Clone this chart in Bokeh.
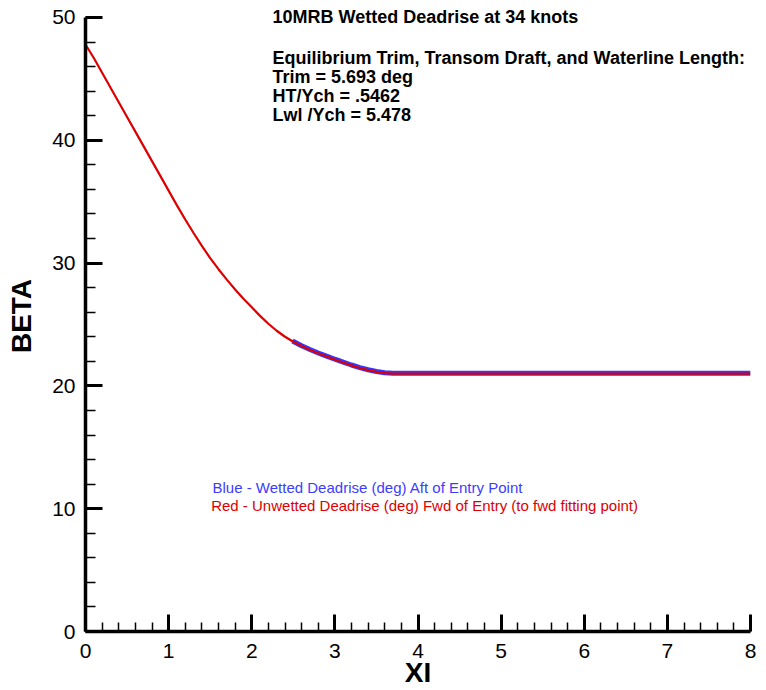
from bokeh.plotting import figure
from bokeh.models import Range1d, SingleIntervalTicker, Label
from bokeh.embed import file_html
from bokeh.resources import INLINE

# Red: unwetted deadrise (fwd of entry)
red_xi = [0.0, 0.1, 0.2, 0.3, 0.4, 0.5, 0.6, 0.7, 0.8, 0.9,
          1.0, 1.1, 1.2, 1.3, 1.4, 1.5, 1.6, 1.7, 1.8, 1.9,
          2.0, 2.1, 2.2, 2.3, 2.4, 2.5, 2.6, 2.7, 2.8, 2.9,
          3.0, 3.1, 3.2, 3.3, 3.4, 3.5, 3.6, 3.7, 3.8, 3.9,
          4.0, 4.5, 5.0, 5.5, 6.0, 6.5, 7.0, 7.5, 8.0]
red_beta = [47.8, 46.7, 45.5, 44.3, 43.1, 41.9, 40.7, 39.5, 38.3, 37.1,
            35.9, 34.7, 33.55, 32.45, 31.4, 30.4, 29.5, 28.65, 27.85, 27.1,
            26.4, 25.70, 25.06, 24.49, 24.00, 23.59, 23.24, 22.93, 22.65, 22.39,
            22.14, 21.90, 21.67, 21.46, 21.28, 21.14, 21.04, 21.0, 21.0, 21.0,
            21.0, 21.0, 21.0, 21.0, 21.0, 21.0, 21.0, 21.0, 21.0]

# Blue: wetted deadrise (aft of entry point)
blue_xi = [2.49, 2.6, 2.7, 2.8, 2.9, 3.0, 3.1, 3.2, 3.3, 3.4,
           3.5, 3.6, 3.7, 3.8, 3.9, 4.0, 4.5, 5.0, 5.5, 6.0,
           6.5, 7.0, 7.5, 8.0]
blue_beta = [23.66, 23.27, 22.96, 22.68, 22.42, 22.17, 21.93, 21.70, 21.49, 21.31,
             21.17, 21.07, 21.03, 21.03, 21.03, 21.03, 21.03, 21.03, 21.03, 21.03,
             21.03, 21.03, 21.03, 21.03]

x_major = 1
y_major = 10
y_top = 50

title_lines = ["10MRB Wetted Deadrise at 34 knots"]
info_lines = ["Equilibrium Trim, Transom Draft, and Waterline Length:",
              "Trim = 5.693 deg",
              "HT/Ych = .5462",
              "Lwl /Ych = 5.478"]
legend_blue = "Blue - Wetted Deadrise (deg) Aft of Entry Point"
legend_red = "Red - Unwetted Deadrise (deg) Fwd of Entry (to fwd fitting point)"

FONT = "Liberation Sans"

# frame top extends a little above 50 so texts there are not clipped;
# the axis itself is bounded to 0..50
p = figure(width=766, height=690, output_backend="svg", toolbar_location=None,
           x_range=Range1d(0, 8), y_range=Range1d(0, 51.38),
           min_border_left=85, min_border_right=16,
           min_border_top=0, min_border_bottom=58)
p.outline_line_color = None
p.xgrid.visible = False
p.ygrid.visible = False

for ax, tk in ((p.xaxis, SingleIntervalTicker(interval=x_major, num_minor_ticks=5)),
               (p.yaxis, SingleIntervalTicker(interval=y_major, num_minor_ticks=5))):
    ax.ticker = tk
    ax.axis_line_width = 3.5
    ax.axis_line_color = "black"
    ax.major_tick_in = 17
    ax.major_tick_out = 0
    ax.major_tick_line_width = 3
    ax.minor_tick_out = 0
    ax.minor_tick_line_width = 1.5
    ax.major_label_text_font = FONT
    ax.major_label_text_font_size = "21px"
    ax.major_label_text_color = "black"
    ax.axis_label_text_font = FONT
    ax.axis_label_text_font_style = "bold"
    ax.axis_label_text_font_size = "28px"
    ax.axis_label_text_color = "black"

p.yaxis.bounds = (0, y_top)
p.xaxis.minor_tick_in = 9
p.yaxis.minor_tick_in = 10
p.xaxis.major_label_standoff = 12
p.yaxis.major_label_standoff = 10
p.xaxis.axis_label = "XI"
p.yaxis.axis_label = "BETA"
p.xaxis.axis_label_standoff = -4
p.yaxis.axis_label_standoff = 12

p.line(blue_xi, blue_beta, line_color="#3535ff", line_width=5)
p.line(red_xi, red_beta, line_color="#dd0000", line_width=2.2)

for txt, yv in zip(title_lines + info_lines, [49.19, 45.85, 44.31, 42.76, 41.22]):
    p.add_layout(Label(x=2.25, y=yv, text=txt, text_font=FONT,
                       text_font_style="bold", text_font_size="18px", text_color="black"))

p.add_layout(Label(x=1.528, y=11.06, text=legend_blue, text_font=FONT,
                   text_font_size="15px", text_color="#3c3cff"))
p.add_layout(Label(x=1.512, y=9.60, text=legend_red, text_font=FONT,
                   text_font_size="15px", text_color="#dd0000"))

open("out.html", "w").write(file_html(p, INLINE))
